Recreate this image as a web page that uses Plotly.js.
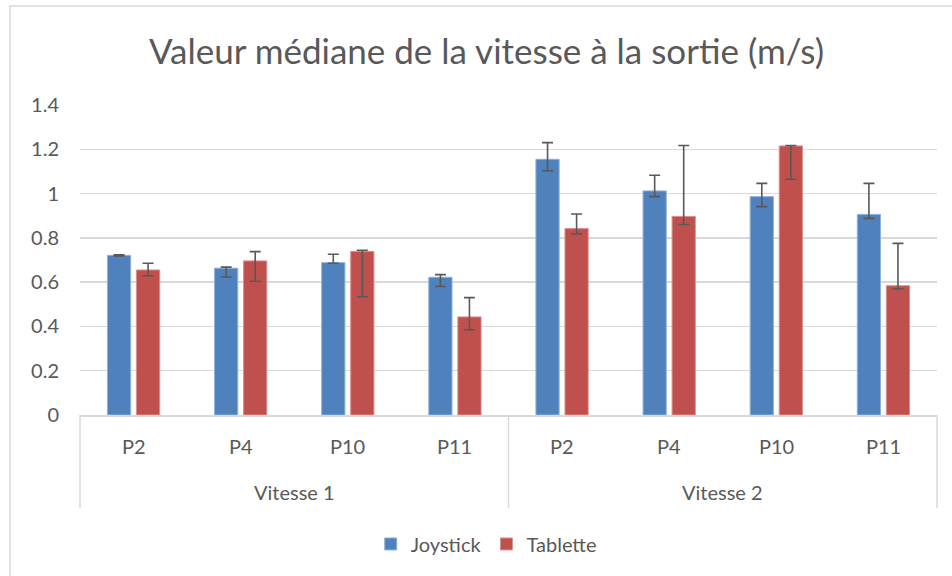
<!DOCTYPE html>
<html>
<head>
<meta charset="utf-8">
<script src="https://cdn.plot.ly/plotly-3.0.1.min.js"></script>
<style>
html,body{margin:0;padding:0;background:#fff;}
#chart{width:952px;height:576px;}
</style>
</head>
<body>
<div id="chart"></div>
<script>
const groups = ["Vitesse 1","Vitesse 1","Vitesse 1","Vitesse 1","Vitesse 2","Vitesse 2","Vitesse 2","Vitesse 2"];
const participants = ["P2","P4","P10","P11","P2","P4","P10","P11"];
const groupNames = ["Vitesse 1","Vitesse 2"];

const joystick = [0.721, 0.663, 0.688, 0.622, 1.155, 1.012, 0.986, 0.906];
const joystickPlus = [0.003, 0.005, 0.038, 0.012, 0.075, 0.071, 0.060, 0.140];
const joystickMinus = [0.003, 0.040, 0.003, 0.042, 0.052, 0.026, 0.045, 0.018];

const tablette = [0.655, 0.696, 0.739, 0.443, 0.842, 0.897, 1.215, 0.584];
const tablettePlus = [0.030, 0.042, 0.005, 0.087, 0.066, 0.320, 0.002, 0.191];
const tabletteMinus = [0.026, 0.092, 0.205, 0.058, 0.024, 0.037, 0.150, 0.014];

const yTicks = [0, 0.2, 0.4, 0.6, 0.8, 1, 1.2, 1.4];
const yTickText = ["0","0.2","0.4","0.6","0.8","1","1.2","1.4"];

const FONT = "Lato, 'Open Sans', sans-serif";
const TXT = "#595959";
const GRID = "#d9d9d9";
const errStyle = {type:"data", symmetric:false, color:"#595959", thickness:1.6, width:5.5};

const traces = [
  {type:"bar", name:"Joystick", x:[groups, participants], y:joystick,
   marker:{color:"#4F81BD", line:{color:"#8FB0DA", width:1}},
   error_y:Object.assign({array:joystickPlus, arrayminus:joystickMinus}, errStyle)},
  {type:"bar", name:"Tablette", x:[groups, participants], y:tablette,
   marker:{color:"#C0504D", line:{color:"#DA8F8D", width:1}},
   error_y:Object.assign({array:tablettePlus, arrayminus:tabletteMinus}, errStyle)}
];

// category label annotations and divider lines (layout only)
const n = participants.length;
const annotations = [];
participants.forEach((p, i) => {
  annotations.push({xref:"paper", yref:"paper", x:(i+0.5)/n, y:-0.1, text:p, showarrow:false,
    xanchor:"center", yanchor:"middle", font:{family:FONT, size:20, color:TXT}});
});
groupNames.forEach((g, j) => {
  annotations.push({xref:"paper", yref:"paper", x:(j+0.5)/groupNames.length, y:-0.248, text:g, showarrow:false,
    xanchor:"center", yanchor:"middle", font:{family:FONT, size:20, color:TXT}});
});
const shapes = [{type:"rect", xref:"paper", yref:"paper", x0:-0.0817, x1:1.03, y0:-0.55, y1:1.319,
           line:{color:GRID, width:1.5}, fillcolor:"rgba(0,0,0,0)", layer:"below"}];
for (let j = 0; j <= groupNames.length; j++) {
  const xp = j/groupNames.length;
  shapes.push({type:"line", xref:"paper", yref:"paper", x0:xp, x1:xp, y0:0, y1:-0.3,
    line:{color:GRID, width:1.5}, layer:"below"});
}

const layout = {
  width:952, height:576,
  margin:{l:80, r:15, t:105, b:161},
  paper_bgcolor:"#fff", plot_bgcolor:"#fff",
  font:{family:FONT, color:TXT, size:20},
  title:{text:"Valeur médiane de la vitesse à la sortie (m/s)", font:{family:FONT, size:35, color:TXT},
         x:0.511, xanchor:"center", y:0.91, yanchor:"middle"},
  barmode:"group", bargap:0.458, bargroupgap:0.2,
  xaxis:{type:"multicategory", showgrid:false, zeroline:false, showticklabels:false,
         showline:true, linecolor:GRID, linewidth:1.5, ticks:"", showdividers:false},
  yaxis:{range:[0,1.4], tickvals:yTicks, ticktext:yTickText, showgrid:true, gridcolor:GRID, gridwidth:1.5,
         zeroline:false, showline:false, ticks:"", ticklabelstandoff:20,
         tickfont:{family:FONT, size:20, color:TXT}},
  showlegend:true,
  legend:{orientation:"h", x:0.474, xanchor:"center", y:-0.416, yanchor:"middle",
          font:{family:FONT, size:20, color:TXT}, itemwidth:30},
  annotations:annotations,
  shapes:shapes
};

Plotly.newPlot("chart", traces, layout, {displayModeBar:false, staticPlot:true});
</script>
</body>
</html>
